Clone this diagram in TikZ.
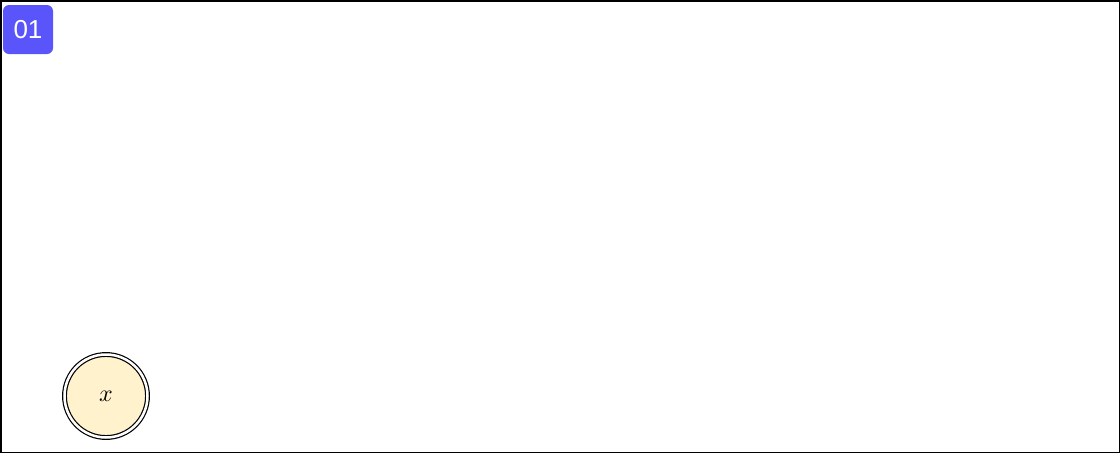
\documentclass[tikz,border=0pt]{standalone}
\usepackage{fontspec}
\usepackage{unicode-math}
\setmathfont{Latin Modern Math}
\newfontfamily\badgefont{Liberation Sans}
\usepackage{tikz}
\usetikzlibrary{positioning, calc}

\definecolor{badgeblue}{RGB}{90,85,250}
\definecolor{statefill}{RGB}{255,242,204}

\begin{document}
\begin{tikzpicture}
            [x=1pt, y=-1pt, semithick,
            frame/.style={rectangle, draw=black, line width=1.5pt},
            badge/.style={rectangle, rounded corners=6pt, fill=badgeblue, text=white,
                minimum width=50pt, minimum height=49pt, inner sep=0pt,
                font=\badgefont\fontsize{26}{30}\selectfont},
            state/.style={circle, draw=black, fill=statefill, double, double distance=2.5pt,
                line width=1.2pt, minimum size=83pt, inner sep=0pt}]

            \useasboundingbox (0,0) rectangle (1120,453);
            \draw[frame] (0.75,0.75) rectangle (1119.25,452.25);

            \node[badge] (num) at (28,29.5) {01};
            \node[state] (x) at (106,396) {\fontsize{24}{28}\selectfont$x$};

          \end{tikzpicture}
\end{document}
